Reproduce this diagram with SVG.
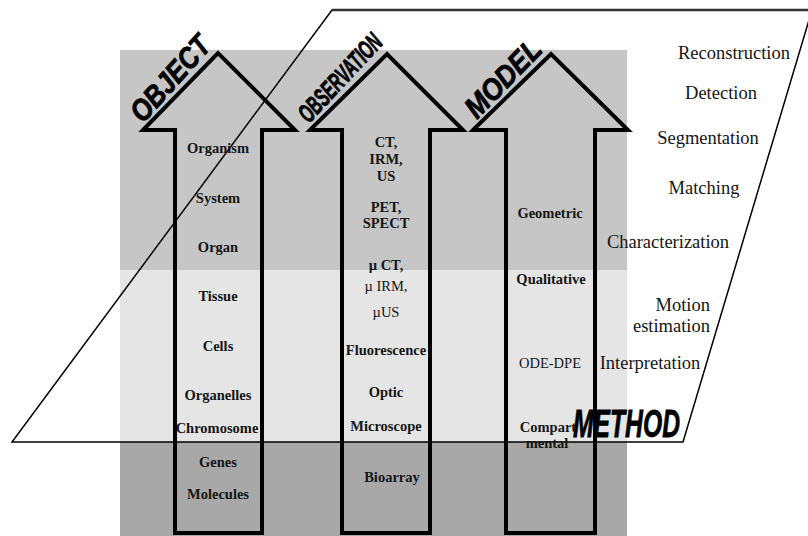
<svg xmlns="http://www.w3.org/2000/svg" width="808" height="536" viewBox="0 0 808 536">
<style>
.arrow{fill:none;stroke:#000;stroke-width:4;stroke-linejoin:miter}
.title{font-family:"Liberation Sans",Arial,sans-serif;font-weight:bold;font-style:italic;fill:#000;stroke:#000;stroke-width:0.8}
.lbl{font-family:"Liberation Serif","Times New Roman",serif;font-weight:bold;font-size:14.5px;fill:#151515;text-anchor:middle}
.reg{font-weight:normal}
.meth{font-family:"Liberation Serif","Times New Roman",serif;font-size:18.5px;fill:#151515}
</style>
<rect width="808" height="536" fill="#fff"/>
<g id="background">
<rect x="120" y="50" width="507" height="220" fill="#c6c6c6"/>
<rect x="120" y="270" width="507" height="172" fill="#e5e5e5"/>
<rect x="120" y="442" width="507" height="94" fill="#a8a8a8"/>
</g>
<g id="method-plane">
<polygon points="332,10 812,10 683,442 12,442" fill="none" stroke="#000" stroke-width="1.5"/>
<line x1="332" y1="10" x2="808" y2="10" stroke="#333" stroke-width="2.5"/>
</g>
<g id="object">
<path class="arrow" d="M175,533 L175,130 L143,130 L218,53 L295,130 L262,130 L262,533 Z"/>
<text class="title" font-size="30" textLength="104" lengthAdjust="spacingAndGlyphs" transform="translate(143,124) rotate(-48)">OBJECT</text>
<text class="lbl" x="218" y="153">Organism</text>
<text class="lbl" x="218" y="203">System</text>
<text class="lbl" x="218" y="252">Organ</text>
<text class="lbl" x="218" y="301">Tissue</text>
<text class="lbl" x="218" y="351">Cells</text>
<text class="lbl" x="218" y="400">Organelles</text>
<text class="lbl" x="217" y="433">Chromosome</text>
<text class="lbl" x="218" y="467">Genes</text>
<text class="lbl" x="218" y="499">Molecules</text>
</g>
<g id="observation">
<path class="arrow" d="M342,533 L342,130 L310,130 L387,54 L463,130 L430,130 L430,533 Z"/>
<text class="title" font-size="26" textLength="110" lengthAdjust="spacingAndGlyphs" transform="translate(309,124) rotate(-47)">OBSERVATION</text>
<text class="lbl" x="386" y="147">CT,</text>
<text class="lbl" x="386" y="164">IRM,</text>
<text class="lbl" x="386" y="181">US</text>
<text class="lbl" x="386" y="212">PET,</text>
<text class="lbl" x="386" y="228">SPECT</text>
<text class="lbl" x="386" y="270">µ CT,</text>
<text class="lbl reg" x="386" y="291">µ IRM,</text>
<text class="lbl reg" x="386" y="317">µUS</text>
<text class="lbl" x="386" y="355" font-size="13px">Fluorescence</text>
<text class="lbl" x="386" y="397">Optic</text>
<text class="lbl" x="386" y="431">Microscope</text>
<text class="lbl" x="392" y="482">Bioarray</text>
</g>
<g id="model">
<path class="arrow" d="M506,533 L506,130 L473,130 L551,54 L628,130 L595,130 L595,533 Z"/>
<text class="title" font-size="30" textLength="96" lengthAdjust="spacingAndGlyphs" transform="translate(477,120) rotate(-46)">MODEL</text>
<text class="lbl" x="550" y="218">Geometric</text>
<text class="lbl" x="551" y="284">Qualitative</text>
<text class="lbl reg" x="550" y="368" font-size="15.5px">ODE-DPE</text>
<text class="lbl" x="548" y="432" font-size="12px">Compart</text>
<text class="lbl" x="547" y="448" font-size="12px">mental</text>
</g>
<g id="method">
<text class="title" font-size="38" x="573" y="437" textLength="107" lengthAdjust="spacingAndGlyphs">METHOD</text>
<text class="meth" x="790" y="59" text-anchor="end" font-size="17px">Reconstruction</text>
<text class="meth" x="721" y="99" text-anchor="middle" font-size="17.5px">Detection</text>
<text class="meth" x="708" y="144" text-anchor="middle">Segmentation</text>
<text class="meth" x="704" y="194" text-anchor="middle">Matching</text>
<text class="meth" x="668" y="248" text-anchor="middle" font-size="19px">Characterization</text>
<text class="meth" x="710" y="311" text-anchor="end">Motion</text>
<text class="meth" x="710" y="332" text-anchor="end">estimation</text>
<text class="meth" x="650" y="369" text-anchor="middle">Interpretation</text>
</g>
</svg>
